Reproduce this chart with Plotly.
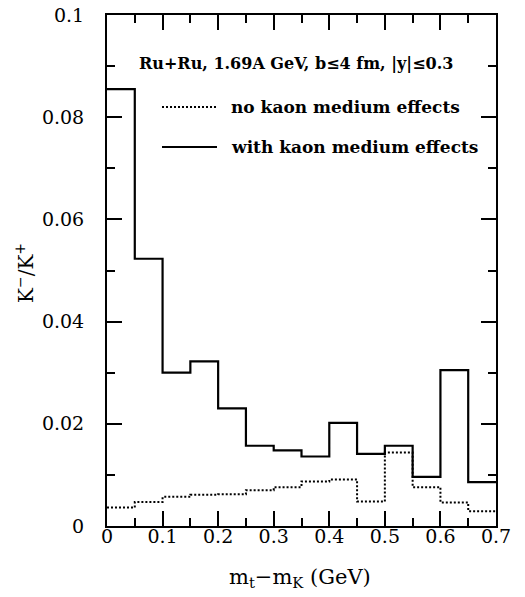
import plotly.graph_objects as go

# bin edges (GeV) and K-/K+ ratios
bin_edges = [0.0, 0.05, 0.1, 0.15, 0.2, 0.25, 0.3, 0.35, 0.4, 0.45, 0.5, 0.55, 0.6, 0.65, 0.7]
with_medium = [0.0855, 0.0523, 0.0300, 0.0322, 0.0230, 0.0157, 0.0148, 0.0136,
               0.0202, 0.0141, 0.0157, 0.0096, 0.0305, 0.0086]
no_medium = [0.0036, 0.0047, 0.0057, 0.0061, 0.0062, 0.0070, 0.0076, 0.0087,
             0.0091, 0.0048, 0.0144, 0.0076, 0.0046, 0.0029]

x_ticks = [0, 0.1, 0.2, 0.3, 0.4, 0.5, 0.6, 0.7]
x_ticklabels = ["0", "0.1", "0.2", "0.3", "0.4", "0.5", "0.6", "0.7"]
y_ticks = [0, 0.02, 0.04, 0.06, 0.08, 0.1]
y_ticklabels = ["0", "0.02", "0.04", "0.06", "0.08", "0.1"]

FONT = "DejaVu Serif"

def step_xy(vals):
    return bin_edges, list(vals) + [vals[-1]]

fig = go.Figure()
sx, sy = step_xy(no_medium)
fig.add_trace(go.Scatter(x=sx, y=sy, mode="lines", line_shape="hv",
                         line=dict(color="black", width=2, dash="2px,2px"),
                         showlegend=False, hoverinfo="skip"))
sx, sy = step_xy(with_medium)
fig.add_trace(go.Scatter(x=sx, y=sy, mode="lines", line_shape="hv",
                         line=dict(color="black", width=2.2),
                         showlegend=False, hoverinfo="skip"))

axis_common = dict(showline=True, linewidth=2, linecolor="black", mirror="allticks",
                   ticks="inside", ticklen=15, tickwidth=2, tickcolor="black",
                   showgrid=False, zeroline=False, automargin=False,
                   tickfont=dict(family=FONT, size=19, color="black"))

fig.update_xaxes(range=[0, 0.7], tickvals=x_ticks, ticktext=x_ticklabels,
                 minor=dict(ticks="inside", ticklen=8, tickwidth=2, tickcolor="black", dtick=0.05, tick0=0),
                 ticklabelstandoff=-8, **axis_common)
fig.update_yaxes(range=[0, 0.1], tickvals=y_ticks, ticktext=y_ticklabels,
                 minor=dict(ticks="inside", ticklen=8, tickwidth=2, tickcolor="black", dtick=0.01, tick0=0),
                 ticklabelstandoff=17, **axis_common)

def px2x(px):
    return (px - 107) / 389.0

def px2y(py):
    return (526 - py) / 511.0

annots = [
    dict(x=px2x(296), y=px2y(63), text="<b>Ru+Ru, 1.69A GeV, b≤4 fm, |y|≤0.3</b>",
         xanchor="center", yanchor="middle", font=dict(family=FONT, size=16)),
    dict(x=px2x(229), y=px2y(107), text="<b>no kaon medium effects</b>",
         xanchor="left", yanchor="middle", font=dict(family=FONT, size=17)),
    dict(x=px2x(229), y=px2y(147), text="<b>with kaon medium effects</b>",
         xanchor="left", yanchor="middle", font=dict(family=FONT, size=17)),
    dict(x=px2x(300), y=px2y(578), text="m<sub>t</sub>−m<sub>K</sub> (GeV)",
         xanchor="center", yanchor="middle", font=dict(family=FONT, size=21)),
    dict(x=px2x(25), y=px2y(273), text="K<sup>−</sup>/K<sup>+</sup>", textangle=-90,
         xanchor="center", yanchor="middle", font=dict(family=FONT, size=20)),
]
for a in annots:
    a.update(xref="paper", yref="paper", showarrow=False)
    a["font"]["color"] = "black"
fig.update_layout(annotations=annots)

fig.add_shape(type="line", xref="paper", yref="paper", x0=px2x(162), x1=px2x(217),
              y0=px2y(107), y1=px2y(107), line=dict(color="black", width=2, dash="2px,2px"))
fig.add_shape(type="line", xref="paper", yref="paper", x0=px2x(162), x1=px2x(217),
              y0=px2y(147), y1=px2y(147), line=dict(color="black", width=2.2))

fig.update_layout(width=525, height=597, margin=dict(l=107, r=29, t=15, b=71, autoexpand=False),
                  plot_bgcolor="white", paper_bgcolor="white", showlegend=False)

fig.write_html("out.html", config={"displayModeBar": False},
               post_script="document.body.style.margin='0';document.body.style.padding='0';")
